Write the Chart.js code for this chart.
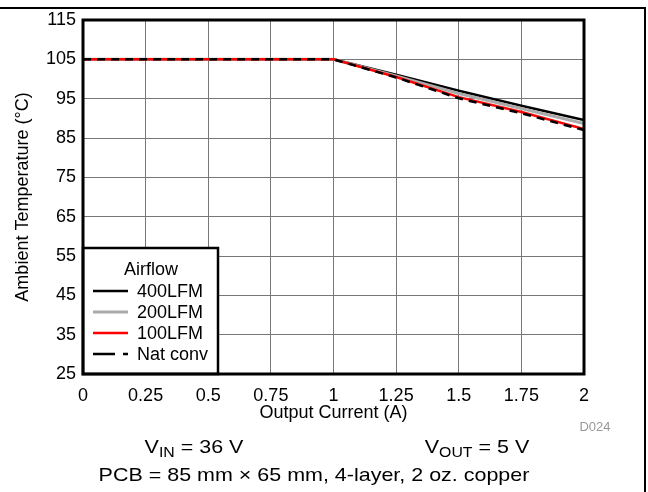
<!DOCTYPE html>
<html>
<head>
<meta charset="utf-8">
<script src="https://cdn.jsdelivr.net/npm/chart.js@4"></script>
<style>
  body { margin: 0; background: #fff; }
  #wrap { position: relative; width: 648px; height: 492px; overflow: hidden; font-family: "Liberation Sans", Arial, sans-serif; }
  #c { position: absolute; left: 0; top: 0; }
  .frameTop { position: absolute; left: 0; top: 7px; width: 646px; height: 2px; background: #000; }
  .frameRight { position: absolute; left: 644px; top: 7px; width: 2px; height: 485px; background: #000; }
  .note { position: absolute; transform: translate(-50%, -50%) scaleX(1.13); white-space: nowrap; color: #000; font-size: 19px; }
  .note sub { font-size: 14px; vertical-align: -4px; line-height: 0; }
  .code { color: #999; font-size: 13px; transform: translate(-50%, -50%); }
</style>
</head>
<body>
<div id="wrap">
  <canvas id="c" width="648" height="492"></canvas>
  <div class="frameTop"></div>
  <div class="frameRight"></div>
  <div class="note code" style="left:595px; top:426px;">D024</div>
  <div class="note" style="left:194px; top:447px;">V<sub>IN</sub> = 36 V</div>
  <div class="note" style="left:477px; top:447px;">V<sub>OUT</sub> = 5 V</div>
  <div class="note" style="left:314px; top:475px;">PCB = 85 mm × 65 mm, 4-layer, 2 oz. copper</div>
</div>
<script>
const currentA = [0, 0.25, 0.5, 0.75, 1, 1.25, 1.5, 1.75, 2];
const temp400LFM = [105, 105, 105, 105, 105, 101.1, 97.0, 93.2, 89.6];
const temp200LFM = [105, 105, 105, 105, 105, 100.8, 96.3, 92.5, 88.7];
const temp100LFM = [105, 105, 105, 105, 105, 100.5, 95.4, 91.6, 87.3];
const tempNatConv = [105, 105, 105, 105, 105, 100.4, 95.1, 91.3, 87.0];
const seriesNames = ["400LFM", "200LFM", "100LFM", "Nat conv"];
const xTicks = [0, 0.25, 0.5, 0.75, 1, 1.25, 1.5, 1.75, 2];
const yTicks = [25, 35, 45, 55, 65, 75, 85, 95, 105, 115];

const FONT = "Liberation Sans, Arial, sans-serif";

function pts(ys) {
  return currentA.map((x, i) => ({ x: x, y: ys[i] }));
}

// legend box + plot frame drawn by hand
const frameLegend = {
  id: "frameLegend",
  afterDatasetsDraw(chart) {
    const ctx = chart.ctx;
    const a = chart.chartArea;
    const ds = chart.data.datasets;

    const boxL = a.left, boxR = 218, boxT = 248, boxB = a.bottom;
    ctx.save();
    ctx.fillStyle = "#fff";
    ctx.fillRect(boxL, boxT, boxR - boxL, boxB - boxT);
    ctx.strokeStyle = "#000";
    ctx.lineWidth = 2.5;
    ctx.strokeRect(boxL, boxT, boxR - boxL, boxB - boxT);

    ctx.font = "18px " + FONT;
    ctx.fillStyle = "#000";
    ctx.textBaseline = "middle";
    ctx.textAlign = "center";
    ctx.fillText("Airflow", 151, 270);
    ctx.textAlign = "left";
    ds.forEach((d, i) => {
      const y = 291 + i * 21;
      ctx.beginPath();
      ctx.strokeStyle = d.borderColor;
      ctx.lineWidth = d.borderWidth;
      ctx.setLineDash(i === 3 ? [22, 8, 5, 40] : []);
      ctx.moveTo(93, y);
      ctx.lineTo(128, y);
      ctx.stroke();
      ctx.setLineDash([]);
      ctx.fillText(d.label, 137, y + 1);
    });

    ctx.strokeStyle = "#000";
    ctx.lineWidth = 3;
    ctx.strokeRect(a.left, a.top, a.right - a.left, a.bottom - a.top);
    ctx.restore();
  }
};

new Chart("c", {
  type: "line",
  data: {
    datasets: [
      // higher order is painted first, so Nat conv ends up on top
      { label: seriesNames[0], data: pts(temp400LFM), borderColor: "#000000", borderWidth: 2.5, order: 3 },
      { label: seriesNames[1], data: pts(temp200LFM), borderColor: "#aaaaaa", borderWidth: 3, order: 2 },
      { label: seriesNames[2], data: pts(temp100LFM), borderColor: "#ff0000", borderWidth: 2.5, order: 1 },
      { label: seriesNames[3], data: pts(tempNatConv), borderColor: "#000000", borderWidth: 2.5, borderDash: [8, 6], order: 0 }
    ]
  },
  options: {
    responsive: false,
    animation: false,
    events: [],
    elements: { point: { radius: 0 }, line: { tension: 0 } },
    layout: { padding: { left: 0, top: 20, right: 64, bottom: 68 } },
    plugins: { legend: { display: false }, tooltip: { enabled: false } },
    scales: {
      x: {
        type: "linear",
        min: 0,
        max: 2,
        afterFit: s => { s.height = 50; },
        afterBuildTicks: s => { s.ticks = xTicks.map(v => ({ value: v })); },
        grid: { color: "#777", lineWidth: 1, drawTicks: false },
        border: { display: false },
        ticks: { color: "#000", font: { family: FONT, size: 18 }, padding: 11, maxRotation: 0,
                 callback: v => String(v) },
        title: { display: true, text: "Output Current (A)", color: "#000",
                 font: { family: FONT, size: 18 }, padding: { top: 0, bottom: 0 } }
      },
      y: {
        type: "linear",
        min: 25,
        max: 115,
        afterFit: s => { s.width = 83; },
        afterBuildTicks: s => { s.ticks = yTicks.map(v => ({ value: v })); },
        grid: { color: "#777", lineWidth: 1, drawTicks: false },
        border: { display: false },
        ticks: { color: "#000", font: { family: FONT, size: 18 }, padding: 7 },
        title: { display: true, text: "Ambient Temperature (°C)", color: "#000",
                 font: { family: FONT, size: 18 }, padding: { top: 12, bottom: 0 } }
      }
    }
  },
  plugins: [frameLegend]
});
</script>
</body>
</html>
